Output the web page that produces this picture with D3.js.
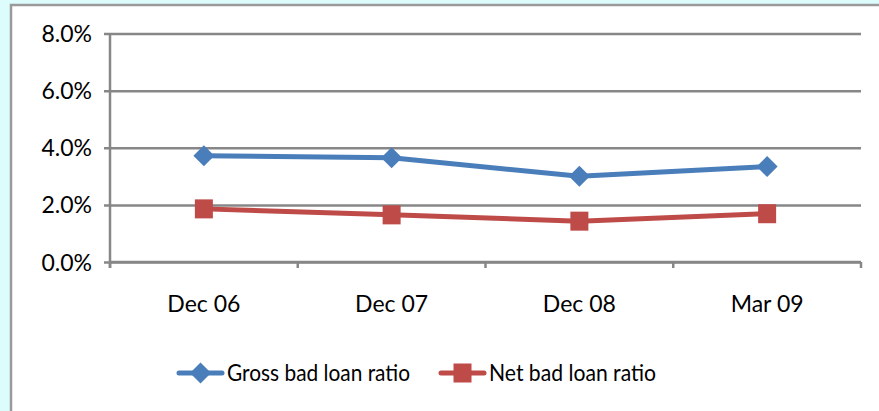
<!DOCTYPE html>
<html>
<head>
<meta charset="utf-8">
<script src="https://cdn.jsdelivr.net/npm/d3@7"></script>
<style>
  html, body { margin: 0; padding: 0; background: #ddfcfc; }
  svg { display: block; }
  text { font-family: Lato, "Open Sans", sans-serif; fill: #000; }
</style>
</head>
<body>
<svg id="chart" width="879" height="411"></svg>
<script>
// Bad loan ratios by reporting period (percent)
const periods = ["Dec 06", "Dec 07", "Dec 08", "Mar 09"];
const grossRatio = [3.72, 3.65, 3.00, 3.34];
const netRatio = [1.86, 1.65, 1.43, 1.69];
const yTicks = [0, 2, 4, 6, 8];
const seriesNames = ["Gross bad loan ratio", "Net bad loan ratio"];

const W = 879, H = 411;
const svg = d3.select("#chart");

// white chart panel with grey frame on the left and top
svg.append("rect").attr("x", 11).attr("y", 5).attr("width", W - 11).attr("height", H - 5)
  .attr("fill", "#fff");
svg.append("path").attr("d", `M11,${H}V5H${W}`)
  .attr("fill", "none").attr("stroke", "#9a9a9a").attr("stroke-width", 2.5);

const plot = { left: 110, right: 861, top: 33.5, bottom: 262 };

const x = d3.scaleBand().domain(periods).range([plot.left, plot.right]);
const y = d3.scaleLinear().domain([0, 8]).range([plot.bottom, plot.top]);

const grid = "#878787";

// horizontal gridlines with left tick marks
const yAxis = d3.axisLeft(y).tickValues(yTicks).tickSize(-(plot.right - plot.left))
  .tickFormat(d => d.toFixed(1) + "%").tickPadding(12);
const gy = svg.append("g").attr("transform", `translate(${plot.left},0)`).call(yAxis);
gy.select(".domain").remove();
gy.selectAll(".tick line").attr("stroke", grid).attr("stroke-width", 2.5)
  .attr("x1", -6);
gy.selectAll(".tick text").attr("font-size", 23).attr("font-family", "Lato, sans-serif")
  .attr("fill", "#000").attr("dy", "0.35em").attr("x", -18);

// vertical axis line
svg.append("line").attr("x1", plot.left).attr("x2", plot.left)
  .attr("y1", plot.top).attr("y2", plot.bottom + 6)
  .attr("stroke", grid).attr("stroke-width", 2.5);

// category axis with boundary ticks
const gx = svg.append("g").attr("transform", `translate(0,${plot.bottom})`)
  .call(d3.axisBottom(x).tickSize(0).tickPadding(0));
gx.select(".domain").attr("stroke", grid).attr("stroke-width", 2.5)
  .attr("d", `M${plot.left},0H${plot.right}`);
gx.selectAll(".tick text").attr("font-size", 23).attr("font-family", "Lato, sans-serif")
  .attr("fill", "#000").attr("y", 50).attr("dy", 0);
const bounds = periods.map(p => x(p)).concat([plot.right]);
gx.selectAll(".bound").data(bounds).enter().append("line")
  .attr("x1", d => d).attr("x2", d => d).attr("y1", 0).attr("y2", 6)
  .attr("stroke", grid).attr("stroke-width", 2.5);

const cx = p => x(p) + x.bandwidth() / 2;
const blue = "#4a7ebb", red = "#be4b48";

const line = d3.line().x((d, i) => cx(periods[i])).y(d => y(d));

svg.append("path").datum(grossRatio).attr("d", line)
  .attr("fill", "none").attr("stroke", blue).attr("stroke-width", 5).attr("stroke-linejoin", "round");
svg.append("path").datum(netRatio).attr("d", line)
  .attr("fill", "none").attr("stroke", red).attr("stroke-width", 5).attr("stroke-linejoin", "round");

const diamond = (px, py, r) => `M${px},${py - r}L${px + r},${py}L${px},${py + r}L${px - r},${py}Z`;

svg.selectAll(".gm").data(grossRatio).enter().append("path")
  .attr("d", (d, i) => diamond(cx(periods[i]), y(d), 10.5)).attr("fill", blue);
svg.selectAll(".nm").data(netRatio).enter().append("rect")
  .attr("x", (d, i) => cx(periods[i]) - 9).attr("y", d => y(d) - 9.5)
  .attr("width", 18).attr("height", 19).attr("fill", red);

// legend
const legendY = 373;
const legend = [
  { name: seriesNames[0], color: blue, x0: 179, shape: "diamond", len: 183 },
  { name: seriesNames[1], color: red, x0: 441, shape: "square", len: 167 }
];
legend.forEach(l => {
  const g = svg.append("g");
  g.append("line").attr("x1", l.x0).attr("x2", l.x0 + 43).attr("y1", legendY).attr("y2", legendY)
    .attr("stroke", l.color).attr("stroke-width", 5).attr("stroke-linecap", "round");
  const mx = l.x0 + 21.5;
  if (l.shape === "diamond") {
    g.append("path").attr("d", diamond(mx, legendY, 10.5)).attr("fill", l.color);
  } else {
    g.append("rect").attr("x", mx - 9).attr("y", legendY - 9.5).attr("width", 18).attr("height", 19)
      .attr("fill", l.color);
  }
  g.append("text").attr("x", l.x0 + 48).attr("y", legendY).attr("dy", "0.36em")
    .attr("font-size", 23).attr("textLength", l.len).attr("lengthAdjust", "spacingAndGlyphs")
    .text(l.name);
});
</script>
</body>
</html>
